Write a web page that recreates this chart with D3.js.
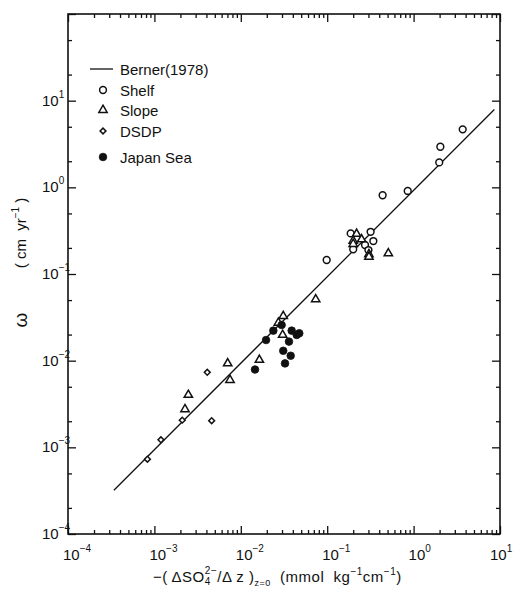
<!DOCTYPE html>
<html>
<head>
<meta charset="utf-8">
<script src="https://cdn.jsdelivr.net/npm/d3@7"></script>
<style>
  html, body { margin: 0; padding: 0; background: #fff; }
  svg { display: block; }
  text { font-family: "Liberation Sans", Arial, sans-serif; fill: #111; white-space: pre; }
</style>
</head>
<body>
<svg id="chart" width="514" height="591"></svg>
<script>
// Sulfate gradient at the sediment surface vs. sedimentation rate (log-log)

// Berner (1978) relation, end points of the drawn line
const bernerX = [3.4e-4, 8.6];
const bernerY = [3.2e-4, 7.9];

// Shelf sites (open circles)
const shelfX = [0.0986, 0.187, 0.318, 0.342, 0.274, 0.20, 0.30, 0.438, 0.855, 1.98, 2.04, 3.70];
const shelfY = [0.145, 0.294, 0.307, 0.240, 0.216, 0.193, 0.189, 0.81, 0.908, 1.94, 2.94, 4.67];

// Slope sites (open triangles)
const slopeX = [0.00226, 0.00247, 0.00705, 0.0075, 0.0164, 0.0272, 0.031, 0.0305, 0.0736,
                0.219, 0.20, 0.20, 0.25, 0.304, 0.304, 0.51];
const slopeY = [0.00275, 0.00402, 0.0093, 0.00598, 0.0102, 0.0274, 0.0327, 0.0198, 0.051,
                0.29, 0.242, 0.222, 0.251, 0.169, 0.158, 0.173];

// DSDP sites (open diamonds)
const dsdpX = [0.00083, 0.00119, 0.0021, 0.0046, 0.00409];
const dsdpY = [0.00073, 0.00122, 0.00206, 0.00203, 0.00734];

// Japan Sea (filled circles)
const japanX = [0.0297, 0.0238, 0.0196, 0.0388, 0.0444, 0.0475, 0.0361, 0.031, 0.0378, 0.0325, 0.0146];
const japanY = [0.0258, 0.0222, 0.0173, 0.0222, 0.0198, 0.0207, 0.0166, 0.013, 0.0114, 0.0093, 0.0079];

// Axis ticks
const xMajor = [1e-4, 1e-3, 1e-2, 1e-1, 1e0, 1e1];
const xExp = ["−4", "−3", "−2", "−1", "0", "1"];
const yMajor = [1e-4, 1e-3, 1e-2, 1e-1, 1e0, 1e1, 1e2];
const yLabelled = [1e-4, 1e-3, 1e-2, 1e-1, 1e0, 1e1];
const yExp = ["−4", "−3", "−2", "−1", "0", "1"];
const xMinorMult = [2, 3, 4, 5, 6, 7, 8, 9];
const yMinorMult = [2, 5];

const legendItems = ["Berner(1978)", "Shelf", "Slope", "DSDP", "Japan Sea"];

const svg = d3.select("#chart");
const L = 68, R = 500, T = 14, B = 534;

const x = d3.scaleLog().domain([1e-4, 10]).range([L, R]);
const y = d3.scaleLog().domain([1e-4, 100]).range([B, T]);

function minors(majors, mults, dom) {
  const out = [];
  majors.forEach(m => mults.forEach(k => {
    const v = m * k;
    if (v > dom[0] && v < dom[1]) out.push(v);
  }));
  return out;
}
const xMinor = minors(xMajor, xMinorMult, x.domain());
const yMinor = minors(yMajor, yMinorMult, y.domain());

const tickStroke = "#111";
function styleAxis(g) {
  g.select(".domain").remove();
  g.selectAll("line").attr("stroke", tickStroke).attr("stroke-width", 1.3);
  g.selectAll("text").remove();
}

// inward-pointing ticks on all four sides
const axes = [
  [d3.axisBottom(x), `translate(0,${B})`, xMajor, xMinor],
  [d3.axisTop(x), `translate(0,${T})`, xMajor, xMinor],
  [d3.axisLeft(y), `translate(${L},0)`, yMajor, yMinor],
  [d3.axisRight(y), `translate(${R},0)`, yMajor, yMinor]
];
axes.forEach(([ax, tr, maj, min]) => {
  svg.append("g").attr("transform", tr)
    .call(ax.tickValues(maj).tickSizeInner(-8).tickSizeOuter(0).tickFormat(() => ""))
    .call(styleAxis);
  svg.append("g").attr("transform", tr)
    .call(ax.tickValues(min).tickSizeInner(-4).tickSizeOuter(0).tickFormat(() => ""))
    .call(styleAxis);
});

// frame
svg.append("rect")
  .attr("x", L).attr("y", T).attr("width", R - L).attr("height", B - T)
  .attr("fill", "none").attr("stroke", "#111").attr("stroke-width", 1.6);

// x tick labels: 10 with superscript exponent (last one kept inside the page)
xMajor.forEach((v, i) => {
  const t = svg.append("text")
    .attr("x", Math.min(x(v) - 5, 490)).attr("y", B + 26)
    .attr("font-size", 15);
  t.append("tspan").text("10");
  t.append("tspan").attr("font-size", 10).attr("dy", -8).text(xExp[i]);
});

// y tick labels
yLabelled.forEach((v, i) => {
  const t = svg.append("text")
    .attr("x", 42).attr("y", y(v) + 5)
    .attr("font-size", 15);
  t.append("tspan").text("10");
  t.append("tspan").attr("font-size", 10).attr("dy", -8).text(yExp[i]);
});

// axis titles
const xt = svg.append("text").attr("x", 153).attr("y", 582)
  .attr("font-size", 15).attr("letter-spacing", 0.5);
xt.append("tspan").text("−( ΔSO");
xt.append("tspan").attr("font-size", 10).attr("dy", 3).text("4");
xt.append("tspan").attr("font-size", 10).attr("dx", -6).attr("dy", -11).text("2−");
xt.append("tspan").attr("dy", 8).text("/Δ z )");
xt.append("tspan").attr("font-size", 9).attr("dy", 4).text("z=0");
xt.append("tspan").attr("dy", -4).text("  (mmol  kg");
xt.append("tspan").attr("font-size", 10).attr("dy", -7).text("−1");
xt.append("tspan").attr("dy", 7).text("cm");
xt.append("tspan").attr("font-size", 10).attr("dy", -7).text("−1");
xt.append("tspan").attr("dy", 7).text(")");

const yt = svg.append("text")
  .attr("transform", "translate(26,233) rotate(-90)")
  .attr("text-anchor", "middle").attr("font-size", 15);
yt.append("tspan").text("( cm  yr");
yt.append("tspan").attr("font-size", 10).attr("dy", -7).text("−1");
yt.append("tspan").attr("dy", 7).text(" )");

svg.append("text")
  .attr("transform", "translate(27,320) rotate(-90)")
  .attr("text-anchor", "middle").attr("font-size", 19).text("ω");

// Berner line
const line = d3.line().x(d => x(d[0])).y(d => y(d[1]));
svg.append("path")
  .datum(d3.zip(bernerX, bernerY))
  .attr("d", line)
  .attr("fill", "none").attr("stroke", "#111").attr("stroke-width", 1.3);

// marker generators
const tri = d3.symbol().type(d3.symbolTriangle).size(30);
const dia = d3.symbol().type(d3.symbolSquare).size(17);

function circles(xs, ys, filled) {
  svg.append("g").selectAll("circle")
    .data(d3.zip(xs, ys)).join("circle")
    .attr("cx", d => x(d[0])).attr("cy", d => y(d[1]))
    .attr("r", filled ? 3.8 : 3.4)
    .attr("fill", filled ? "#111" : "#fff")
    .attr("stroke", "#111").attr("stroke-width", filled ? 0.8 : 1.5);
}
function symbols(xs, ys, gen, rot) {
  svg.append("g").selectAll("path")
    .data(d3.zip(xs, ys)).join("path")
    .attr("d", gen())
    .attr("transform", d => `translate(${x(d[0])},${y(d[1])}) rotate(${rot})`)
    .attr("fill", "#fff").attr("stroke", "#111").attr("stroke-width", 1.5);
}

circles(shelfX, shelfY, false);
symbols(slopeX, slopeY, tri, 0);
symbols(dsdpX, dsdpY, dia, 45);
circles(japanX, japanY, true);

// legend
const lg = svg.append("g");
const legY = [69, 90, 110, 131, 157];
const mx = 103, tx = 120;
lg.append("line").attr("x1", 90).attr("x2", 113).attr("y1", legY[0]).attr("y2", legY[0])
  .attr("stroke", "#111").attr("stroke-width", 1.3);
lg.append("circle").attr("cx", mx).attr("cy", legY[1]).attr("r", 3.4)
  .attr("fill", "#fff").attr("stroke", "#111").attr("stroke-width", 1.5);
lg.append("path").attr("d", tri()).attr("transform", `translate(${mx},${legY[2]})`)
  .attr("fill", "#fff").attr("stroke", "#111").attr("stroke-width", 1.5);
lg.append("path").attr("d", dia()).attr("transform", `translate(${mx},${legY[3]}) rotate(45)`)
  .attr("fill", "#fff").attr("stroke", "#111").attr("stroke-width", 1.5);
lg.append("circle").attr("cx", mx).attr("cy", legY[4]).attr("r", 3.8)
  .attr("fill", "#111").attr("stroke", "#111").attr("stroke-width", 0.8);
legendItems.forEach((s, i) => {
  lg.append("text").attr("x", tx).attr("y", legY[i] + 6).attr("font-size", 15).text(s);
});
</script>
</body>
</html>
